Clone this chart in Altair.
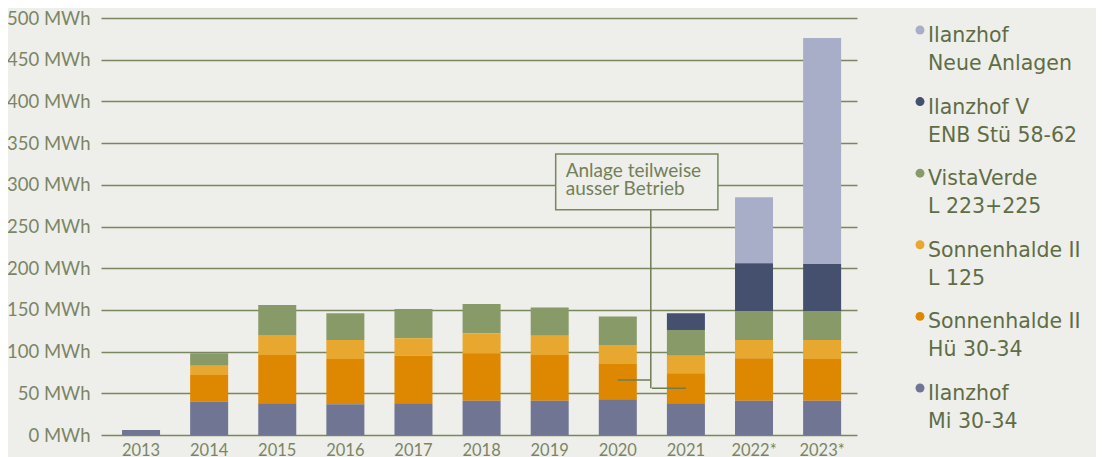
import altair as alt
import pandas as pd

# ---- data ----
years = ["2013", "2014", "2015", "2016", "2017", "2018", "2019", "2020", "2021", "2022*", "2023*"]

series = [
    "Ilanzhof|Neue Anlagen",
    "Ilanzhof V|ENB Stü 58-62",
    "VistaVerde|L 223+225",
    "Sonnenhalde II|L 125",
    "Sonnenhalde II|Hü 30-34",
    "Ilanzhof|Mi 30-34",
]
colors = ["#a9aec8", "#454f6e", "#889a68", "#e8a72e", "#de8700", "#6f7592"]

neue_anlagen = [0, 0, 0, 0, 0, 0, 0, 0, 0, 79, 271]
enb_stue = [0, 0, 0, 0, 0, 0, 0, 0, 20, 58, 57]
vistaverde = [0, 15, 36, 32, 35, 35, 34, 34, 31, 34, 34]
sonnen_l125 = [0, 11, 24, 23, 21, 24, 23, 23, 21, 22, 23]
sonnen_hue = [0, 32, 58, 54, 57, 57, 55, 42, 36, 51, 50]
ilanz_mi = [6, 40, 38, 37, 38, 41, 41, 43, 38, 41, 41]

y_ticks = [0, 50, 100, 150, 200, 250, 300, 350, 400, 450, 500]
note_text = "Anlage teilweise|ausser Betrieb"

values_by_series = [neue_anlagen, enb_stue, vistaverde, sonnen_l125, sonnen_hue, ilanz_mi]
rows = []
for si, (s, vals) in enumerate(zip(series, values_by_series)):
    for yr, v in zip(years, vals):
        rows.append({"year": yr, "series": s, "value": v, "order": len(series) - si})
df = pd.DataFrame(rows)
legend_df = pd.DataFrame({"series": series})
one = pd.DataFrame({"a": [0]})

BG = "#eeefea"
GRID = "#7a875e"
AXIS_TXT = "#7b8566"
LINE = "#6e7c52"

color_scale = alt.Scale(domain=series, range=colors)
x_scale = alt.Scale(domain=years, paddingInner=0.442, paddingOuter=0.271, align=0.57)
y_scale = alt.Scale(domain=[0, 500], nice=False)

bars = alt.Chart(df).mark_bar().encode(
    x=alt.X("year:N", scale=x_scale, sort=years,
            axis=alt.Axis(title=None, labelAngle=0, ticks=False, tickSize=0, domain=False,
                          labelFont="Lato", labelFontSize=16.5, labelColor=AXIS_TXT, labelPadding=7)),
    y=alt.Y("value:Q", stack="zero", scale=y_scale,
            axis=alt.Axis(title=None, values=y_ticks, labelExpr="datum.value + ' MWh'",
                          ticks=False, tickSize=0, domain=False, grid=True,
                          gridColor=GRID, gridWidth=1.5, labelFont="Lato", labelFontSize=18.5,
                          labelColor=AXIS_TXT, labelPadding=11)),
    color=alt.Color("series:N", scale=color_scale, legend=None),
    order=alt.Order("order:Q", sort="ascending"),
)

# annotation (positions in data units: MWh and year bands)
vline = alt.Chart(one).mark_rule(color=LINE, strokeWidth=1.5, xOffset=33).encode(
    x=alt.XDatum("2020", type="nominal", bandPosition=0.5),
    y=alt.datum(270), y2=alt.datum(56),
)
h2020 = alt.Chart(one).mark_rule(color=LINE, strokeWidth=1.5, x2Offset=33).encode(
    x=alt.XDatum("2020", type="nominal", bandPosition=0.5),
    x2=alt.X2Datum("2020", bandPosition=0.5),
    y=alt.datum(66),
)
h2021 = alt.Chart(one).mark_rule(color=LINE, strokeWidth=1.5, xOffset=-34).encode(
    x=alt.XDatum("2021", type="nominal", bandPosition=0.5),
    x2=alt.X2Datum("2021", bandPosition=0.5),
    y=alt.datum(56),
)
box = alt.Chart(one).mark_rect(fill=BG, stroke=GRID, strokeWidth=1.5, xOffset=6, x2Offset=32).encode(
    x=alt.XDatum("2019", type="nominal", bandPosition=0.5),
    x2=alt.X2Datum("2021", bandPosition=0.5),
    y=alt.datum(337), y2=alt.datum(270),
)
note = alt.Chart(one).mark_text(align="left", baseline="alphabetic", dx=16, lineBreak="|",
                                lineHeight=18.5, font="Lato", fontSize=19, color="#72805a").encode(
    x=alt.XDatum("2019", type="nominal", bandPosition=0.5),
    y=alt.datum(309.5),
    text=alt.value(note_text),
)

main = alt.layer(bars, vline, h2020, h2021, box, note)

# legend drawn as marks at the right
leg_y = alt.Y("series:N", scale=alt.Scale(type="point", domain=series, padding=0.412, align=0.203), axis=None)
leg_dots = alt.Chart(legend_df).mark_circle(size=80, opacity=1).encode(
    x=alt.value(819), y=leg_y,
    color=alt.Color("series:N", scale=color_scale, legend=None),
)
leg_text = alt.Chart(legend_df).mark_text(align="left", baseline="alphabetic", dy=12, lineBreak="|",
                                          lineHeight=28, font="DejaVu Sans", fontSize=20.5,
                                          color="#5e6d45").encode(
    x=alt.value(827), y=leg_y, text="series:N",
)
legend = alt.layer(leg_dots, leg_text)

chart = alt.layer(main, legend).resolve_scale(y="independent").properties(
    width=756, height=417,
    padding={"left": 93, "top": 10, "right": 239, "bottom": 22},
    autosize=alt.AutoSizeParams(type="none"),
    background=BG,
).configure_view(stroke=None)

chart.save("out.html", embed_options={"renderer": "svg", "actions": False})
